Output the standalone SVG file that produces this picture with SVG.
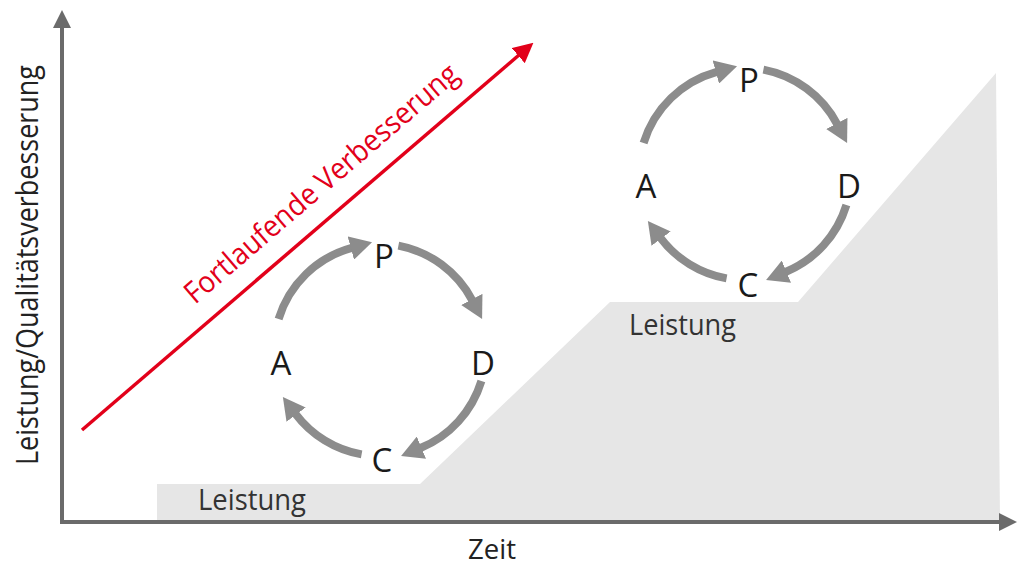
<svg xmlns="http://www.w3.org/2000/svg" width="1017" height="566" viewBox="0 0 1017 566">
  <style>
    .lbl { font-family: "Open Sans", "Liberation Sans", sans-serif; fill: #222; }
    .cyc { font-family: "Open Sans", "Liberation Sans", sans-serif; font-size: 33px; fill: #1a1a1a; text-anchor: middle; }
    .arc { fill: none; stroke: #8c8c8c; stroke-width: 8; }
    .axis { stroke: #6b6b6b; stroke-width: 4; fill: none; }
  </style>
  <defs>
    <marker id="gh" markerUnits="userSpaceOnUse" viewBox="0 0 22 24" refX="1" refY="12" markerWidth="22" markerHeight="24" orient="auto">
      <path d="M0,0 L22,12 L0,24 z" fill="#8c8c8c"/>
    </marker>
    <marker id="ah" markerUnits="userSpaceOnUse" viewBox="0 0 18 18" refX="1" refY="9" markerWidth="18" markerHeight="18" orient="auto">
      <path d="M0,0 L18,9 L0,18 z" fill="#6b6b6b"/>
    </marker>
    <marker id="rh" markerUnits="userSpaceOnUse" viewBox="0 0 20 20" refX="1" refY="10" markerWidth="20" markerHeight="20" orient="auto">
      <path d="M0,0 L20,10 L0,20 z" fill="#e2001a"/>
    </marker>
  </defs>

  <g id="area">
    <polygon points="157,522 157,484 420,484 610,302 798,302 996,73 1000,522" fill="#e6e6e6"/>
  </g>

  <g id="connectors">
    <line class="axis" x1="62" y1="523" x2="62" y2="27" marker-end="url(#ah)"/>
    <line class="axis" x1="60" y1="522" x2="1000" y2="522" marker-end="url(#ah)"/>
    <line x1="82" y1="430" x2="519" y2="55" stroke="#e2001a" stroke-width="3.5" marker-end="url(#rh)"/>
  </g>

  <g id="cycle1">
    <path class="arc" d="M278.6,319 A106,106 0 0 1 351.8,247.8" marker-end="url(#gh)"/>
    <path class="arc" d="M398.4,245.6 A106,106 0 0 1 472.3,300.3" marker-end="url(#gh)"/>
    <path class="arc" d="M481.4,381 A106,106 0 0 1 420.5,448" marker-end="url(#gh)"/>
    <path class="arc" d="M361.6,454.4 A106,106 0 0 1 295.5,413.8" marker-end="url(#gh)"/>
    <text class="cyc" x="384" y="268">P</text>
    <text class="cyc" x="483" y="375">D</text>
    <text class="cyc" x="382" y="472">C</text>
    <text class="cyc" x="281" y="375">A</text>
  </g>

  <g id="cycle2">
    <path class="arc" d="M643.6,143 A106,106 0 0 1 716.8,71.8" marker-end="url(#gh)"/>
    <path class="arc" d="M763.4,69.6 A106,106 0 0 1 837.3,124.3" marker-end="url(#gh)"/>
    <path class="arc" d="M846.4,205 A106,106 0 0 1 785.5,272" marker-end="url(#gh)"/>
    <path class="arc" d="M726.6,278.4 A106,106 0 0 1 660.5,237.8" marker-end="url(#gh)"/>
    <text class="cyc" x="749" y="92">P</text>
    <text class="cyc" x="849" y="198">D</text>
    <text class="cyc" x="748" y="297">C</text>
    <text class="cyc" x="646" y="198">A</text>
  </g>

  <g id="labels">
    <text class="lbl" x="195" y="305" font-size="30" style="fill:#e2001a" textLength="350" lengthAdjust="spacingAndGlyphs" transform="rotate(-40.6 195 305)">Fortlaufende Verbesserung</text>
    <text class="lbl" x="0" y="0" font-size="31" textLength="400" lengthAdjust="spacingAndGlyphs" transform="translate(38,465) rotate(-90)">Leistung/Qualitätsverbesserung</text>
    <text class="lbl" x="198" y="510" font-size="29" textLength="108" lengthAdjust="spacingAndGlyphs" style="fill:#333">Leistung</text>
    <text class="lbl" x="629" y="335" font-size="29" textLength="107" lengthAdjust="spacingAndGlyphs" style="fill:#333">Leistung</text>
    <text class="lbl" x="468" y="559" font-size="28" textLength="48" lengthAdjust="spacingAndGlyphs">Zeit</text>
  </g>
</svg>
